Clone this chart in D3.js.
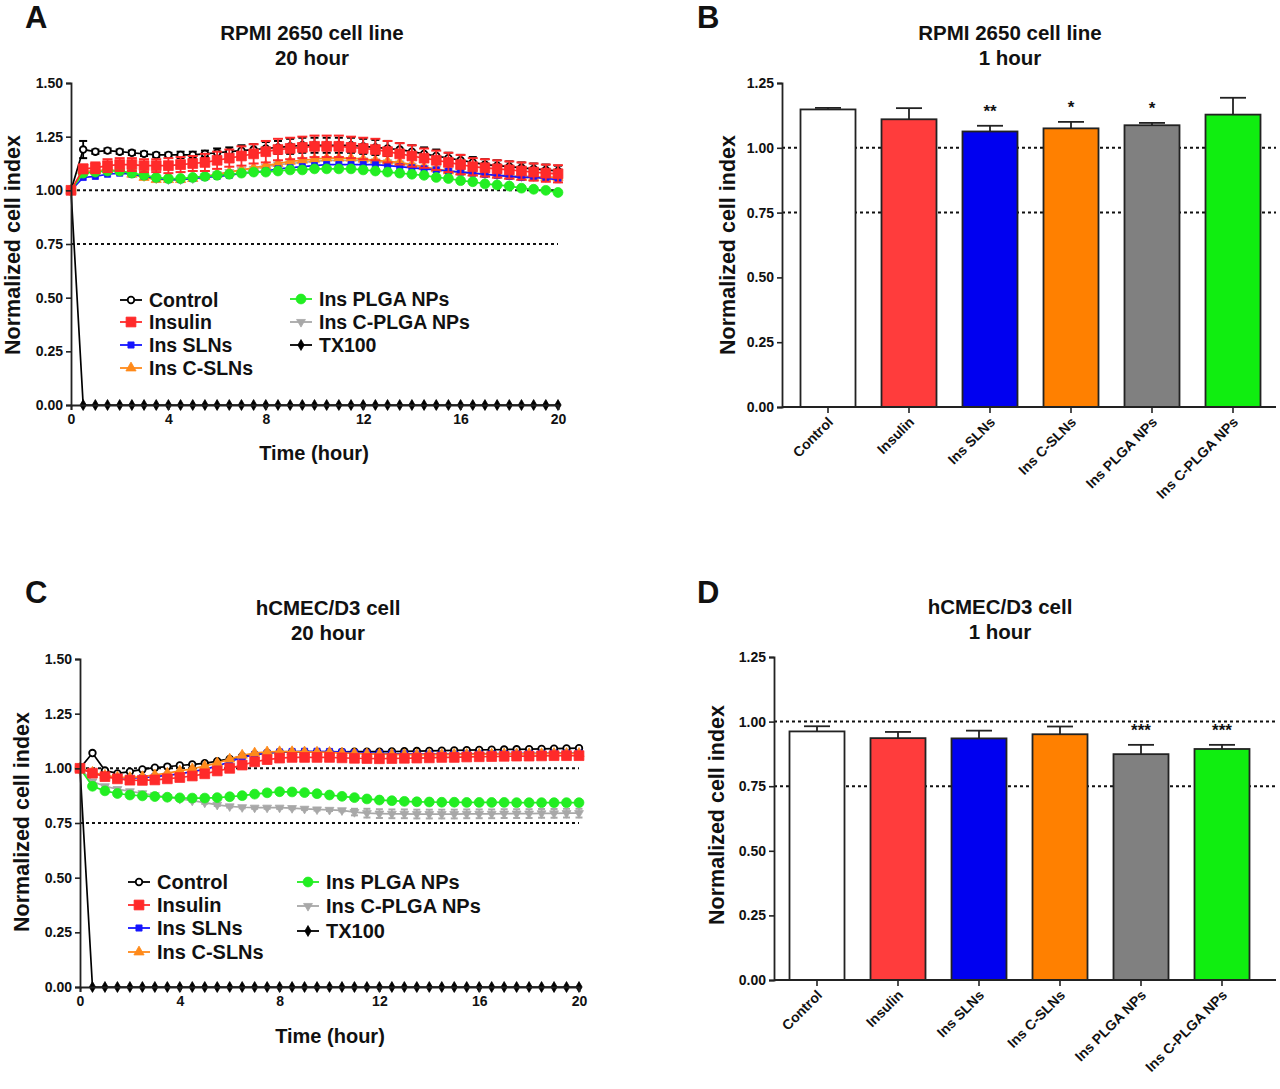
<!DOCTYPE html>
<html><head><meta charset="utf-8">
<script src="https://cdn.jsdelivr.net/npm/d3@7"></script>
<style>
body{margin:0;background:#fff}
text{font-family:"Liberation Sans",Arial,sans-serif;font-weight:bold;fill:#111}
</style>
</head><body>
<svg id="c" width="1280" height="1089"></svg>
<script>
// ---------------- DATA ----------------
const seriesNames = ["Control","Insulin","Ins SLNs","Ins C-SLNs","Ins PLGA NPs","Ins C-PLGA NPs","TX100"];
const timeH = [0,0.5,1,1.5,2,2.5,3,3.5,4,4.5,5,5.5,6,6.5,7,7.5,8,8.5,9,9.5,10,10.5,11,11.5,12,12.5,13,13.5,14,14.5,15,15.5,16,16.5,17,17.5,18,18.5,19,19.5,20];
const xTicks = [0,4,8,12,16,20];
const yTicksLine = [0,0.25,0.5,0.75,1.0,1.25,1.5];
const yTicksBar = [0,0.25,0.5,0.75,1.0,1.25];
const refLines = [1.0,0.75];

// Panel A : RPMI 2650, 20 hour
const A_control = [1.00,1.19,1.18,1.185,1.18,1.175,1.17,1.165,1.165,1.165,1.165,1.17,1.175,1.18,1.185,1.19,1.195,1.20,1.205,1.21,1.21,1.21,1.21,1.21,1.205,1.20,1.195,1.19,1.18,1.17,1.16,1.15,1.14,1.13,1.12,1.115,1.11,1.105,1.10,1.095,1.09];
const A_control_err = [0,0.04,0.01,0.01,0.01,0.01,0.01,0.01,0.01,0.015,0.015,0.015,0.02,0.02,0.025,0.025,0.03,0.03,0.035,0.035,0.035,0.035,0.035,0.035,0.035,0.035,0.035,0.03,0.03,0.03,0.03,0.025,0.025,0.025,0.025,0.025,0.025,0.025,0.025,0.025,0.025];
const A_insulin = [1.00,1.10,1.105,1.115,1.12,1.12,1.115,1.115,1.115,1.12,1.125,1.13,1.14,1.15,1.16,1.17,1.18,1.19,1.195,1.20,1.205,1.205,1.205,1.20,1.195,1.19,1.18,1.17,1.16,1.15,1.14,1.13,1.12,1.11,1.105,1.10,1.095,1.09,1.085,1.08,1.077];
const A_insulin_err = [0,0.02,0.025,0.03,0.03,0.03,0.03,0.03,0.035,0.035,0.035,0.04,0.04,0.04,0.045,0.045,0.05,0.05,0.05,0.05,0.05,0.05,0.05,0.05,0.05,0.05,0.05,0.05,0.05,0.045,0.045,0.045,0.045,0.04,0.04,0.04,0.04,0.04,0.04,0.04,0.04];
const A_slns = [1.00,1.06,1.065,1.075,1.08,1.075,1.065,1.055,1.05,1.05,1.055,1.06,1.065,1.07,1.08,1.085,1.09,1.10,1.105,1.11,1.115,1.12,1.12,1.12,1.12,1.12,1.115,1.11,1.105,1.10,1.095,1.09,1.085,1.08,1.075,1.07,1.065,1.06,1.06,1.055,1.05];
const A_cslns = [1.00,1.09,1.09,1.095,1.09,1.075,1.06,1.05,1.05,1.05,1.055,1.065,1.075,1.085,1.095,1.105,1.115,1.125,1.135,1.14,1.145,1.15,1.15,1.15,1.145,1.14,1.135,1.13,1.12,1.11,1.10,1.09,1.085,1.08,1.075,1.07,1.065,1.06,1.06,1.06,1.06];
const A_plga = [1.00,1.08,1.085,1.09,1.09,1.08,1.07,1.06,1.055,1.055,1.06,1.065,1.07,1.075,1.08,1.085,1.085,1.09,1.095,1.095,1.10,1.10,1.10,1.10,1.095,1.09,1.085,1.08,1.075,1.07,1.06,1.055,1.045,1.04,1.03,1.025,1.02,1.01,1.005,1.00,0.99];
const A_cplga = [1.00,1.085,1.09,1.095,1.09,1.08,1.065,1.055,1.05,1.05,1.055,1.065,1.075,1.085,1.095,1.10,1.11,1.12,1.125,1.13,1.135,1.14,1.14,1.14,1.14,1.135,1.13,1.125,1.115,1.105,1.10,1.09,1.085,1.08,1.075,1.07,1.07,1.065,1.065,1.06,1.06];
const A_tx100 = [1.00,0,0,0,0,0,0,0,0,0,0,0,0,0,0,0,0,0,0,0,0,0,0,0,0,0,0,0,0,0,0,0,0,0,0,0,0,0,0,0,0];

// Panel C : hCMEC/D3, 20 hour
const C_control = [1.00,1.07,0.99,0.977,0.985,0.995,1.003,1.008,1.013,1.018,1.023,1.033,1.043,1.055,1.063,1.07,1.074,1.075,1.075,1.075,1.075,1.075,1.076,1.076,1.076,1.077,1.078,1.079,1.08,1.081,1.082,1.083,1.084,1.085,1.086,1.087,1.088,1.089,1.09,1.091,1.092];
const C_insulin = [1.00,0.978,0.962,0.952,0.946,0.945,0.947,0.952,0.958,0.965,0.975,0.988,1.00,1.015,1.03,1.04,1.047,1.05,1.05,1.05,1.05,1.048,1.046,1.045,1.044,1.045,1.046,1.047,1.048,1.05,1.05,1.052,1.053,1.054,1.055,1.056,1.056,1.057,1.058,1.058,1.058];
const C_slns = [1.00,0.98,0.965,0.958,0.955,0.957,0.962,0.968,0.975,0.985,0.995,1.01,1.03,1.05,1.063,1.07,1.075,1.077,1.078,1.078,1.077,1.075,1.072,1.07,1.068,1.067,1.066,1.065,1.065,1.065,1.065,1.066,1.066,1.067,1.067,1.068,1.068,1.069,1.07,1.07,1.07];
const C_cslns = [1.00,0.982,0.968,0.96,0.958,0.962,0.97,0.978,0.988,0.998,1.01,1.025,1.042,1.06,1.07,1.075,1.076,1.076,1.075,1.074,1.073,1.07,1.068,1.066,1.065,1.064,1.063,1.063,1.063,1.063,1.064,1.064,1.065,1.065,1.066,1.066,1.067,1.067,1.068,1.068,1.068];
const C_plga = [1.00,0.918,0.897,0.885,0.878,0.874,0.871,0.868,0.865,0.864,0.864,0.866,0.87,0.875,0.882,0.888,0.893,0.892,0.889,0.884,0.878,0.872,0.866,0.86,0.855,0.852,0.849,0.847,0.846,0.845,0.845,0.844,0.844,0.844,0.844,0.843,0.843,0.843,0.843,0.843,0.843];
const C_cplga = [1.00,0.94,0.918,0.905,0.895,0.886,0.877,0.868,0.86,0.852,0.843,0.833,0.826,0.822,0.82,0.82,0.82,0.818,0.815,0.812,0.81,0.808,0.8,0.795,0.793,0.792,0.792,0.791,0.791,0.791,0.791,0.792,0.792,0.792,0.793,0.793,0.793,0.794,0.794,0.795,0.795];
const C_cplga_err = [0,0.005,0.005,0.005,0.005,0.005,0.005,0.005,0.005,0.005,0.005,0.005,0.005,0.005,0.005,0.005,0.005,0.005,0.005,0.005,0.005,0.005,0.015,0.02,0.02,0.02,0.02,0.02,0.02,0.02,0.02,0.02,0.02,0.02,0.02,0.02,0.02,0.02,0.02,0.02,0.02];
const C_tx100 = [1.00,0,0,0,0,0,0,0,0,0,0,0,0,0,0,0,0,0,0,0,0,0,0,0,0,0,0,0,0,0,0,0,0,0,0,0,0,0,0,0,0];

// Bar panels (1 hour)
const barCategories = ["Control","Insulin","Ins SLNs","Ins C-SLNs","Ins PLGA NPs","Ins C-PLGA NPs"];
const barColors = ["#ffffff","#ff3c3c","#0000f0","#ff8000","#808080","#10ee10"];
const B_values = [1.148,1.110,1.063,1.075,1.087,1.128];
const B_err = [0.006,0.043,0.022,0.025,0.009,0.065];
const B_sig = ["","","**","*","*",""];
const D_values = [0.962,0.936,0.935,0.951,0.874,0.894];
const D_err = [0.020,0.024,0.030,0.030,0.036,0.016];
const D_sig = ["","","","","***","***"];

// ---------------- DRAWING ----------------
const svg = d3.select("#c");
svg.append("rect").attr("width",1280).attr("height",1089).attr("fill","#fff");

const styles = {
  "Control":        {sym:d3.symbolCircle,  size:34, fill:"#fff",    stroke:"#000",    line:"#000",    rot:0, cap:4},
  "Insulin":        {sym:d3.symbolSquare,  size:96, fill:"#ff2a2a", stroke:"#ff2a2a", line:"#ff2a2a", rot:0, cap:5},
  "Ins SLNs":       {sym:d3.symbolSquare,  size:38, fill:"#1515ff", stroke:"#1515ff", line:"#1515ff", rot:0, cap:3.5},
  "Ins C-SLNs":     {sym:d3.symbolTriangle,size:45, fill:"#ff8a1a", stroke:"#ff8a1a", line:"#ff8a1a", rot:0, cap:3.5},
  "Ins PLGA NPs":   {sym:d3.symbolCircle,  size:76, fill:"#22ee22", stroke:"#22ee22", line:"#22ee22", rot:0, cap:3.5},
  "Ins C-PLGA NPs": {sym:d3.symbolTriangle,size:34, fill:"#a8a8a8", stroke:"#a8a8a8", line:"#a8a8a8", rot:180, cap:3.5},
  "TX100":          {sym:d3.symbolDiamond, size:34, fill:"#000",    stroke:"#000",    line:"#000",    rot:0, cap:3}
};

function drawMarker(g, name, x, y){
  const s = styles[name];
  g.append("path").attr("d", d3.symbol(s.sym, s.size)())
    .attr("transform",`translate(${x},${y}) rotate(${s.rot})`)
    .attr("fill", s.fill).attr("stroke", s.stroke)
    .attr("stroke-width", name==="Control"?1.8:0.8);
}

function styleAxis(g){
  g.select(".domain").attr("stroke","#222").attr("stroke-width",1.8);
  g.selectAll(".tick line").attr("stroke","#222").attr("stroke-width",1.6);
  g.selectAll(".tick text").style("font-size","14px").style("font-weight","bold").attr("fill","#222");
}

function panelLetter(t,x,y){
  svg.append("text").attr("x",x).attr("y",y).text(t).style("font-size","31px");
}
function title(lines,cx,y){
  lines.forEach((l,i)=>svg.append("text").attr("x",cx).attr("y",y+i*25).attr("text-anchor","middle").text(l).style("font-size","20.5px"));
}
function yLabel(x,cy){
  svg.append("text").attr("transform",`translate(${x},${cy}) rotate(-90)`).attr("text-anchor","middle")
    .text("Normalized cell index").style("font-size","21.5px");
}

function linePanel(cfg){
  const x = d3.scaleLinear().domain([0,20]).range(cfg.xr);
  const y = d3.scaleLinear().domain([0,1.5]).range(cfg.yr);
  const g = svg.append("g");
  refLines.forEach(v=>{
    g.append("line").attr("x1",x(0)).attr("x2",x(20)).attr("y1",y(v)).attr("y2",y(v))
      .attr("stroke","#111").attr("stroke-width",2).attr("stroke-dasharray","3,3");
  });
  const line = d3.line().x((d,i)=>x(timeH[i])).y(d=>y(d));
  cfg.order.forEach(name=>{
    const vals = cfg.data[name];
    const s = styles[name];
    const err = cfg.err[name];
    if(err){
      vals.forEach((v,i)=>{
        if(!err[i]) return;
        const xi = x(timeH[i]);
        g.append("line").attr("x1",xi).attr("x2",xi).attr("y1",y(v-err[i])).attr("y2",y(v+err[i])).attr("stroke",s.line).attr("stroke-width",1.8);
        [v-err[i],v+err[i]].forEach(e=>g.append("line").attr("x1",xi-s.cap).attr("x2",xi+s.cap).attr("y1",y(e)).attr("y2",y(e)).attr("stroke",s.line).attr("stroke-width",2));
      });
    }
    g.append("path").attr("d",line(vals)).attr("fill","none").attr("stroke",s.line).attr("stroke-width",1.7);
    vals.forEach((v,i)=>drawMarker(g,name,x(timeH[i]),y(v)));
  });
  const ax = svg.append("g").attr("transform",`translate(0,${cfg.yr[0]})`)
    .call(d3.axisBottom(x).tickValues(xTicks).tickSize(5).tickPadding(4).tickFormat(d3.format("d")));
  styleAxis(ax);
  const ay = svg.append("g").attr("transform",`translate(${cfg.xr[0]},0)`)
    .call(d3.axisLeft(y).tickValues(yTicksLine).tickSize(5).tickPadding(3).tickFormat(d3.format(".2f")));
  styleAxis(ay);
  svg.append("text").attr("x",cfg.xlab[0]).attr("y",cfg.xlab[1]).attr("text-anchor","middle").text("Time (hour)").style("font-size","20px");
  cfg.legend.forEach(it=>{
    const lg = svg.append("g");
    lg.append("line").attr("x1",it.x).attr("x2",it.x+22).attr("y1",it.y).attr("y2",it.y).attr("stroke",styles[it.name].line).attr("stroke-width",1.8);
    drawMarker(lg,it.name,it.x+11,it.y);
    lg.append("text").attr("x",it.x+29).attr("y",it.y+7).text(it.name).style("font-size",cfg.lfs);
  });
}

function barPanel(cfg){
  const x = d3.scalePoint().domain(barCategories).range(cfg.cr);
  const y = d3.scaleLinear().domain([0,1.25]).range(cfg.yr);
  const bw = 55;
  const g = svg.append("g");
  refLines.forEach(v=>{
    g.append("line").attr("x1",cfg.ax).attr("x2",cfg.xend).attr("y1",y(v)).attr("y2",y(v))
      .attr("stroke","#111").attr("stroke-width",2).attr("stroke-dasharray","3,3");
  });
  barCategories.forEach((c,i)=>{
    const cx = x(c), v = cfg.vals[i], e = cfg.err[i];
    g.append("line").attr("x1",cx).attr("x2",cx).attr("y1",y(v)).attr("y2",y(v+e)).attr("stroke","#222").attr("stroke-width",1.8);
    g.append("line").attr("x1",cx-13).attr("x2",cx+13).attr("y1",y(v+e)).attr("y2",y(v+e)).attr("stroke","#222").attr("stroke-width",1.8);
    g.append("rect").attr("x",cx-bw/2).attr("width",bw).attr("y",y(v)).attr("height",y(0)-y(v))
      .attr("fill",barColors[i]).attr("stroke","#222").attr("stroke-width",1.8);
    if(cfg.sig[i]) g.append("text").attr("x",cx).attr("y",y(v+e)-9).attr("text-anchor","middle").text(cfg.sig[i]).style("font-size","17px");
  });
  const ax = svg.append("g").attr("transform",`translate(0,${cfg.yr[0]})`);
  ax.append("line").attr("x1",cfg.ax).attr("x2",cfg.xend).attr("y1",0).attr("y2",0).attr("stroke","#222").attr("stroke-width",1.8);
  barCategories.forEach(c=>{
    ax.append("line").attr("x1",x(c)).attr("x2",x(c)).attr("y1",0).attr("y2",6).attr("stroke","#222").attr("stroke-width",1.6);
    ax.append("text").attr("transform",`translate(${x(c)+6},${16}) rotate(-45)`).attr("text-anchor","end")
      .text(c).style("font-size","14px").attr("fill","#222");
  });
  const ay = svg.append("g").attr("transform",`translate(${cfg.ax},0)`)
    .call(d3.axisLeft(y).tickValues(yTicksBar).tickSize(5).tickPadding(3).tickFormat(d3.format(".2f")));
  styleAxis(ay);
}

// Panel A
panelLetter("A",25,28);
title(["RPMI 2650 cell line","20 hour"],312,40);
yLabel(20,245);
linePanel({
  xr:[71,558], yr:[405,83], lfs:"19.5px",
  data:{"Control":A_control,"Insulin":A_insulin,"Ins SLNs":A_slns,"Ins C-SLNs":A_cslns,"Ins PLGA NPs":A_plga,"Ins C-PLGA NPs":A_cplga,"TX100":A_tx100},
  err:{"Control":A_control_err,"Insulin":A_insulin_err},
  order:["TX100","Ins C-PLGA NPs","Ins C-SLNs","Ins SLNs","Ins PLGA NPs","Control","Insulin"],
  xlab:[314,460],
  legend:[{name:"Control",x:120,y:300},{name:"Insulin",x:120,y:322},{name:"Ins SLNs",x:120,y:345},{name:"Ins C-SLNs",x:120,y:368},
          {name:"Ins PLGA NPs",x:290,y:299},{name:"Ins C-PLGA NPs",x:290,y:322},{name:"TX100",x:290,y:345}]
});

// Panel C
panelLetter("C",25,603);
title(["hCMEC/D3 cell","20 hour"],328,615);
yLabel(29,822);
linePanel({
  xr:[80,579], yr:[987,659], lfs:"20px",
  data:{"Control":C_control,"Insulin":C_insulin,"Ins SLNs":C_slns,"Ins C-SLNs":C_cslns,"Ins PLGA NPs":C_plga,"Ins C-PLGA NPs":C_cplga,"TX100":C_tx100},
  err:{"Ins C-PLGA NPs":C_cplga_err},
  order:["TX100","Ins C-PLGA NPs","Ins PLGA NPs","Control","Ins SLNs","Ins C-SLNs","Insulin"],
  xlab:[330,1043],
  legend:[{name:"Control",x:128,y:882},{name:"Insulin",x:128,y:905},{name:"Ins SLNs",x:128,y:928},{name:"Ins C-SLNs",x:128,y:952},
          {name:"Ins PLGA NPs",x:297,y:882},{name:"Ins C-PLGA NPs",x:297,y:906},{name:"TX100",x:297,y:931}]
});

// Panel B
panelLetter("B",697,28);
title(["RPMI 2650 cell line","1 hour"],1010,40);
yLabel(735,245);
barPanel({cr:[828,1233], yr:[407,83], ax:782, xend:1276, vals:B_values, err:B_err, sig:B_sig});

// Panel D
panelLetter("D",697,603);
title(["hCMEC/D3 cell","1 hour"],1000,614);
yLabel(724,815);
barPanel({cr:[817,1222], yr:[980,657], ax:774, xend:1276, vals:D_values, err:D_err, sig:D_sig});
</script>
</body></html>
